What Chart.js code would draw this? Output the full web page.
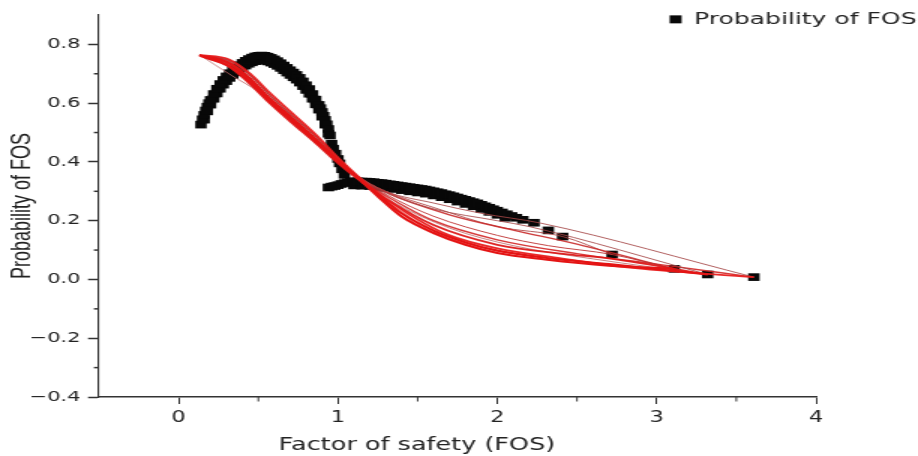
<!DOCTYPE html>
<html>
<head>
<meta charset="utf-8">
<script src="https://cdn.jsdelivr.net/npm/chart.js@4/dist/chart.umd.min.js"></script>
<style>
  html, body { margin: 0; padding: 0; background: #ffffff; overflow: hidden; }
  #wrap { width: 612px; height: 456px; transform: scaleX(1.5); transform-origin: 0 0; }
</style>
</head>
<body>
<div id="wrap"><canvas id="c" width="612" height="456"></canvas></div>
<script>
// ---- data ----
const seriesLabel = 'Probability of FOS';
const xTitle = 'Factor of safety (FOS)';
const yTitle = 'Probability of FOS';
const xTickLabels = ['0', '1', '2', '3', '4'];
const yTickLabels = ['\u22120.4', '\u22120.2', '0.0', '0.2', '0.4', '0.6', '0.8'];

// Black square markers: [FOS, probability] (upper row of the band)
const probabilityPoints = [
  [0.14,0.527],[0.15,0.545],[0.16,0.560],[0.17,0.575],[0.18,0.588],[0.19,0.600],[0.20,0.611],
  [0.22,0.631],[0.24,0.649],[0.26,0.665],[0.28,0.679],[0.30,0.691],[0.32,0.702],[0.34,0.712],
  [0.36,0.721],[0.38,0.729],[0.40,0.737],[0.42,0.744],[0.44,0.750],[0.46,0.755],[0.48,0.759],
  [0.50,0.761],[0.52,0.762],[0.54,0.761],[0.56,0.758],[0.58,0.754],[0.60,0.749],[0.62,0.743],
  [0.64,0.736],[0.66,0.728],[0.68,0.720],[0.70,0.712],[0.72,0.704],[0.74,0.696],[0.76,0.686],
  [0.78,0.674],[0.80,0.661],[0.82,0.648],[0.84,0.631],[0.86,0.612],[0.88,0.594],[0.89,0.583],
  [0.90,0.570],[0.91,0.557],[0.92,0.543],[0.93,0.528],[0.94,0.512],[0.95,0.490],[0.96,0.462],
  [0.97,0.445],[0.985,0.428],[1.00,0.410],[1.01,0.395],[1.025,0.375],[1.04,0.356],
  [0.94,0.313],[0.96,0.316],[0.98,0.318],[1.00,0.321],[1.02,0.325],[1.04,0.328],[1.06,0.331],[1.08,0.333],
  [1.10,0.334],[1.125,0.334],[1.15,0.333],[1.175,0.333],[1.20,0.332],[1.225,0.331],[1.25,0.329],
  [1.275,0.328],[1.30,0.326],[1.325,0.324],[1.35,0.322],[1.375,0.320],[1.40,0.318],[1.425,0.316],
  [1.45,0.314],[1.475,0.312],[1.50,0.310],[1.525,0.308],[1.55,0.306],[1.575,0.303],[1.60,0.300],
  [1.625,0.297],[1.65,0.294],[1.675,0.290],[1.70,0.287],[1.725,0.283],[1.75,0.279],[1.775,0.275],
  [1.80,0.271],[1.825,0.267],[1.85,0.263],[1.875,0.259],[1.90,0.254],[1.925,0.249],[1.95,0.244],
  [1.975,0.239],[2.00,0.234],[2.03,0.228],[2.06,0.222],[2.09,0.216],[2.12,0.210],[2.16,0.203],
  [2.23,0.193],[2.32,0.167],[2.41,0.146],[2.72,0.085],[3.11,0.036],[3.32,0.017],[3.61,0.008]
];
// Black square markers: lower row of the thick band
const probabilityPointsLower = [
  [0.16,0.544],[0.18,0.572],[0.20,0.595],[0.22,0.615],[0.24,0.633],[0.26,0.649],[0.28,0.663],
  [0.30,0.675],[0.32,0.686],[0.34,0.696],[0.36,0.705],[0.38,0.713],[0.40,0.721],[0.42,0.728],
  [0.44,0.734],[0.46,0.739],[0.48,0.743],[0.50,0.745],[0.52,0.746],[0.54,0.745],[0.56,0.742],
  [0.58,0.738],[0.60,0.733],[0.62,0.727],[0.64,0.720],[0.66,0.712],[0.68,0.704],[0.70,0.696],
  [0.72,0.688],[0.74,0.680],[0.76,0.670],[0.78,0.658],[0.80,0.645],[0.82,0.632],[0.84,0.615],
  [0.86,0.596],[0.88,0.578],[0.90,0.554],[0.92,0.527],[0.94,0.496],
  [1.10,0.320],[1.15,0.319],[1.20,0.318],[1.25,0.315],[1.30,0.312],[1.35,0.308],[1.40,0.304],
  [1.45,0.300],[1.50,0.296],[1.55,0.292],[1.60,0.286],[1.65,0.280],[1.70,0.273],[1.75,0.265],
  [1.80,0.257],[1.85,0.249],[1.90,0.240],[1.95,0.230],[2.00,0.220],[2.05,0.210]
];

// Red fitted curves: [FOS, probability]
const fit1 = [[0.13,0.762],[0.31,0.739],[0.44,0.688],[0.56,0.622],[0.71,0.550],[0.87,0.472],[1.00,0.404],[1.12,0.348],[1.25,0.283],[1.40,0.214],[1.60,0.158],[1.80,0.118],[2.00,0.090],[2.30,0.068],[2.70,0.047],[3.11,0.036]];
const fit2 = [[0.14,0.760],[0.30,0.731],[0.44,0.676],[0.57,0.607],[0.72,0.536],[0.88,0.460],[1.00,0.402],[1.12,0.348],[1.25,0.290],[1.40,0.225],[1.60,0.166],[1.80,0.126],[2.00,0.098],[2.30,0.074],[2.70,0.052],[3.32,0.017]];
const fit3 = [[0.13,0.764],[0.32,0.748],[0.45,0.700],[0.57,0.636],[0.71,0.567],[0.87,0.488],[1.00,0.415],[1.12,0.354],[1.25,0.295],[1.45,0.220],[1.70,0.150],[2.00,0.106],[2.40,0.072],[2.80,0.042],[3.61,0.008]];
const fit4 = [[0.15,0.758],[0.31,0.726],[0.43,0.674],[0.56,0.606],[0.70,0.538],[0.86,0.464],[1.00,0.396],[1.12,0.344],[1.30,0.275],[1.60,0.185],[2.00,0.118],[2.40,0.088],[2.72,0.070],[3.32,0.017]];
const fit5 = [[0.13,0.763],[0.33,0.742],[0.46,0.690],[0.58,0.622],[0.72,0.554],[0.88,0.477],[1.00,0.412],[1.12,0.354],[1.30,0.300],[1.60,0.260],[1.90,0.225],[2.27,0.192],[3.61,0.008]];
const fit6 = [[0.14,0.762],[0.32,0.740],[0.45,0.684],[0.57,0.618],[0.71,0.548],[0.87,0.474],[1.00,0.406],[1.12,0.350],[1.30,0.295],[1.60,0.240],[2.00,0.200],[2.20,0.180],[3.32,0.017]];
const fit7 = [[0.13,0.762],[0.31,0.737],[0.44,0.685],[0.56,0.620],[0.71,0.549],[0.87,0.473],[1.00,0.405],[1.12,0.349],[1.30,0.290],[1.60,0.215],[2.00,0.150],[2.32,0.115],[2.72,0.085],[3.11,0.036]];
const fit8 = [[0.14,0.761],[0.32,0.744],[0.45,0.694],[0.57,0.628],[0.71,0.559],[0.87,0.482],[1.00,0.410],[1.12,0.352],[1.30,0.297],[1.70,0.220],[2.10,0.168],[2.50,0.120],[3.11,0.036]];
const fit9 = [[0.13,0.763],[0.31,0.734],[0.44,0.681],[0.56,0.614],[0.71,0.544],[0.87,0.467],[1.00,0.402],[1.12,0.347],[1.30,0.285],[1.60,0.200],[2.00,0.135],[2.50,0.088],[3.00,0.052],[3.61,0.008]];
const fit10 = [[0.14,0.761],[0.31,0.736],[0.44,0.684],[0.56,0.619],[0.71,0.549],[0.87,0.474],[1.00,0.406],[1.12,0.351],[1.30,0.300],[1.60,0.245],[2.00,0.180],[2.41,0.146],[2.72,0.085]];
const fit11 = [[0.13,0.765],[0.33,0.695],[0.50,0.640],[0.64,0.585],[0.78,0.520],[0.92,0.448],[1.04,0.385],[1.15,0.335],[1.35,0.262],[1.70,0.175],[2.10,0.115],[2.60,0.070],[3.32,0.017]];

// ---- styles ----
const redStyles = [
  {c:'rgba(228,20,20,1)', w:2.2}, {c:'rgba(228,20,20,1)', w:2.2}, {c:'rgba(232,30,30,0.95)', w:1.8},
  {c:'rgba(220,25,25,0.95)', w:1.8}, {c:'rgba(165,70,70,0.85)', w:1}, {c:'rgba(165,70,70,0.85)', w:1},
  {c:'rgba(190,50,50,0.9)', w:1}, {c:'rgba(200,40,40,0.9)', w:1.4}, {c:'rgba(210,35,35,0.9)', w:1.4},
  {c:'rgba(170,65,65,0.85)', w:1}, {c:'rgba(185,100,100,0.8)', w:1}
];
const fits = [fit1, fit2, fit3, fit4, fit5, fit6, fit7, fit8, fit9, fit10, fit11];

const toXY = arr => arr.map(p => ({x: p[0], y: p[1]}));
const markerColor = '#080808';

const datasets = [{
  label: seriesLabel,
  data: toXY(probabilityPoints),
  pointStyle: 'rect',
  pointRadius: 5.4,
  pointHoverRadius: 5.4,
  backgroundColor: markerColor,
  borderColor: markerColor,
  borderWidth: 0,
  showLine: false,
  order: 2
}, {
  label: seriesLabel + ' (band)',
  data: toXY(probabilityPointsLower),
  pointStyle: 'rect',
  pointRadius: 5.4,
  pointHoverRadius: 5.4,
  backgroundColor: markerColor,
  borderColor: markerColor,
  borderWidth: 0,
  showLine: false,
  order: 3
}];
fits.forEach((f, i) => {
  datasets.push({
    label: 'fit' + (i + 1),
    data: toXY(f),
    showLine: true,
    pointRadius: 0,
    borderColor: redStyles[i].c,
    borderWidth: redStyles[i].w,
    backgroundColor: redStyles[i].c,
    cubicInterpolationMode: 'monotone',
    fill: false,
    order: 1
  });
});

const axisColor = '#333333';
const isInt = v => Math.abs(v - Math.round(v)) < 1e-9;

const layoutTweaks = {
  id: 'layoutTweaks',
  afterInit(chart) {
    const lg = chart.legend;
    if (lg) {
      const orig = lg.fit;
      lg.fit = function () { orig.call(this); this.height = 15; };
    }
  },
  afterLayout(chart) {
    const lg = chart.legend;
    if (lg) {
      lg.height = 36; lg.bottom = lg.top + 36;
      lg.left = 0; lg.right = 622; lg.width = 622;
    }
  },
  afterDraw(chart) {
    const {ctx} = chart;
    const xs = chart.scales.x, ys = chart.scales.y;
    ctx.save();
    ctx.strokeStyle = axisColor;
    ys.ticks.forEach(t => {
      const r = Math.round(t.value * 10);
      if (Math.abs(r % 2) === 1 && r < 9) {
        const py = ys.getPixelForValue(t.value);
        ctx.lineWidth = 1.5;
        ctx.beginPath(); ctx.moveTo(ys.right - 3.4, py); ctx.lineTo(ys.right, py); ctx.stroke();
      }
    });
    xs.ticks.forEach(t => {
      const v = t.value;
      if (v > -0.5 + 1e-9 && !isInt(v)) {
        const px = xs.getPixelForValue(v);
        ctx.lineWidth = 1;
        ctx.beginPath(); ctx.moveTo(px, xs.top); ctx.lineTo(px, xs.top + 4.5); ctx.stroke();
      }
    });
    ctx.restore();
  }
};

new Chart(document.getElementById('c'), {
  type: 'scatter',
  data: { datasets },
  options: {
    responsive: false,
    animation: false,
    devicePixelRatio: 1,
    layout: { padding: { left: 0, right: 68, top: 0, bottom: 0 } },
    plugins: {
      tooltip: { enabled: false },
      legend: {
        display: true,
        position: 'top',
        align: 'end',
        labels: {
          filter: item => item.text === seriesLabel,
          usePointStyle: true,
          boxWidth: 8,
          boxHeight: 8,
          padding: 11,
          color: '#222',
          font: { family: 'DejaVu Sans', size: 16.7 }
        }
      }
    },
    scales: {
      x: {
        type: 'linear',
        min: -0.5,
        max: 4,
        afterFit: s => { s.height = 59; },
        ticks: {
          stepSize: 0.5,
          autoSkip: false,
          maxRotation: 0,
          padding: 5,
          color: '#222',
          font: { family: 'DejaVu Sans', size: 15 },
          callback: v => (isInt(v) && xTickLabels.includes(String(Math.round(v)))) ? String(Math.round(v)) : ''
        },
        grid: {
          drawOnChartArea: false,
          drawTicks: true,
          tickLength: 7,
          tickWidth: 1,
          tickColor: c => (c.tick && isInt(c.tick.value) && c.tick.value > -0.5) ? axisColor : 'rgba(0,0,0,0)'
        },
        border: { display: true, color: axisColor, width: 1.6 },
        title: {
          display: true,
          text: xTitle + '\u00A0\u00A0\u00A0\u00A0\u00A0\u00A0\u00A0\u00A0\u00A0\u00A0',
          color: '#222',
          font: { family: 'DejaVu Sans', size: 17 },
          padding: { top: 0, bottom: 0 }
        }
      },
      y: {
        type: 'linear',
        min: -0.4,
        max: 0.9,
        afterFit: s => { s.width = 66; },
        ticks: {
          stepSize: 0.1,
          autoSkip: false,
          padding: 5,
          color: '#222',
          font: { family: 'DejaVu Sans', size: 14 },
          callback: v => {
            const r = Math.round(v * 10);
            if (Math.abs(r % 2) === 0 && r <= 8) {
              return yTickLabels[(r + 4) / 2];
            }
            return '';
          }
        },
        grid: {
          drawOnChartArea: false,
          drawTicks: true,
          tickLength: 7.3,
          tickWidth: 1.5,
          tickColor: c => {
            if (!c.tick) return 'rgba(0,0,0,0)';
            const r = Math.round(c.tick.value * 10);
            return (Math.abs(r % 2) === 0 && r <= 8) ? axisColor : 'rgba(0,0,0,0)';
          }
        },
        border: { display: true, color: axisColor, width: 1.1 },
        title: {
          display: true,
          text: yTitle,
          color: '#222',
          font: { family: 'Liberation Sans', size: 18 },
          padding: { top: 4, bottom: 0 }
        }
      }
    }
  },
  plugins: [layoutTweaks]
});
</script>
</body>
</html>
